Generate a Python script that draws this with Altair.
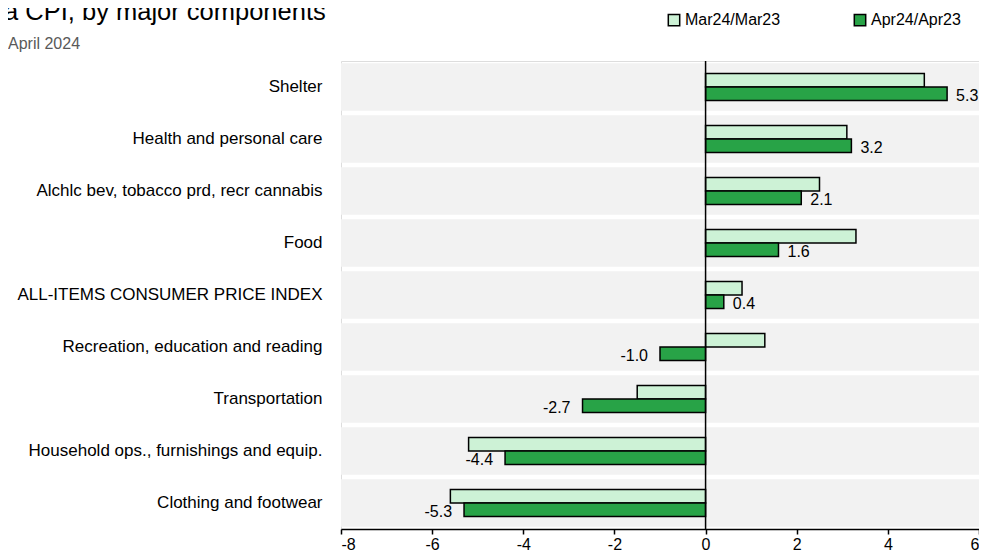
import altair as alt
import pandas as pd

categories = [
    "Shelter",
    "Health and personal care",
    "Alchlc bev, tobacco prd, recr cannabis",
    "Food",
    "ALL-ITEMS CONSUMER PRICE INDEX",
    "Recreation, education and reading",
    "Transportation",
    "Household ops., furnishings and equip.",
    "Clothing and footwear",
]
mar_values = [4.8, 3.1, 2.5, 3.3, 0.8, 1.3, -1.5, -5.2, -5.6]
apr_values = [5.3, 3.2, 2.1, 1.6, 0.4, -1.0, -2.7, -4.4, -5.3]
series_names = ["Mar24/Mar23", "Apr24/Apr23"]
x_ticks = [-8, -6, -4, -2, 0, 2, 4, 6]
title_text = "a CPI, by major components"
subtitle_text = "April 2024"

FONT = "Liberation Sans, Arial, sans-serif"
W, H = 638, 468

rows = []
for c, m, a in zip(categories, mar_values, apr_values):
    rows.append({"cat": c, "series": series_names[0], "value": m})
    rows.append({"cat": c, "series": series_names[1], "value": a})
df = pd.DataFrame(rows)
bg = pd.DataFrame({"cat": categories})

yscale = alt.Scale(paddingInner=0.09, paddingOuter=0.045)
yaxis = alt.Axis(title=None, domain=False, ticks=False, labelFontSize=17,
                 labelPadding=19, labelColor="black", labelFont=FONT, labelLimit=500)
yenc = alt.Y("cat:N", sort=categories, scale=yscale, axis=yaxis)
xscale = alt.Scale(domain=[-8, 6], nice=False, zero=False)
xaxis = alt.Axis(title=None, values=x_ticks, grid=False, domainColor="black",
                 domainWidth=1.5, tickColor="black", tickWidth=1.5, tickSize=5,
                 labelFontSize=16, labelPadding=2, labelColor="black",
                 labelFont=FONT, labelExpr="toString(datum.value)")
yoff = alt.YOffset("series:N", sort=series_names,
                   scale=alt.Scale(paddingInner=0, paddingOuter=0.75))

background = alt.Chart(bg).mark_bar(color="#f2f2f2").encode(
    y=yenc, x=alt.value(0), x2=alt.value(W)
)

bars = alt.Chart(df).mark_bar(stroke="black", strokeWidth=1.5).encode(
    x=alt.X("value:Q", scale=xscale, axis=xaxis),
    y=yenc,
    yOffset=yoff,
    color=alt.Color(
        "series:N", sort=series_names,
        scale=alt.Scale(domain=series_names, range=["#cdf2d6", "#28a347"]),
        legend=alt.Legend(
            title=None, orient="none", direction="horizontal",
            legendX=325, legendY=-49, symbolType="square", symbolSize=130,
            symbolStrokeColor="black", symbolStrokeWidth=1.5,
            symbolOffset=0, labelOffset=3, columnPadding=70,
            labelFontSize=16, labelFont=FONT, labelColor="black",
        ),
    ),
)

label_base = alt.Chart(df).transform_calculate(
    lbl="replace(format(datum.value, '.1f'), '\u2212', '-')"
)

pos_labels = label_base.transform_filter(
    f"datum.series == '{series_names[1]}' && datum.value >= 0"
).mark_text(align="left", baseline="middle", dx=9, dy=2, fontSize=16,
            font=FONT, color="black").encode(
    x=alt.X("value:Q", scale=xscale, axis=xaxis),
    y=yenc, yOffset=yoff,
    text="lbl:N",
)
neg_labels = label_base.transform_filter(
    f"datum.series == '{series_names[1]}' && datum.value < 0"
).mark_text(align="right", baseline="middle", dx=-12, dy=2, fontSize=16,
            font=FONT, color="black").encode(
    x=alt.X("value:Q", scale=xscale, axis=xaxis),
    y=yenc, yOffset=yoff,
    text="lbl:N",
)

zero = alt.Chart(pd.DataFrame({"v": [0]})).mark_rule(
    color="black", strokeWidth=1.5
).encode(x=alt.X("v:Q", scale=xscale, axis=xaxis), y=alt.value(0), y2=alt.value(H))

title = alt.Chart(pd.DataFrame({"t": [title_text]})).mark_text(
    align="left", baseline="alphabetic", fontSize=25.5, font=FONT, color="black"
).encode(text="t:N", x=alt.value(-337), y=alt.value(-41))

subtitle = alt.Chart(pd.DataFrame({"t": [subtitle_text]})).mark_text(
    align="left", baseline="alphabetic", fontSize=16, font=FONT, color="#595959"
).encode(text="t:N", x=alt.value(-333), y=alt.value(-12))

chart = alt.layer(background, bars, zero, pos_labels, neg_labels, title, subtitle).properties(
    width=W, height=H, autosize="none",
    padding={"left": 333, "top": 53, "right": 0, "bottom": 23},
).configure_view(stroke=None).configure(font=FONT)

chart.save("out.html", embed_options={"renderer": "svg", "actions": False})
